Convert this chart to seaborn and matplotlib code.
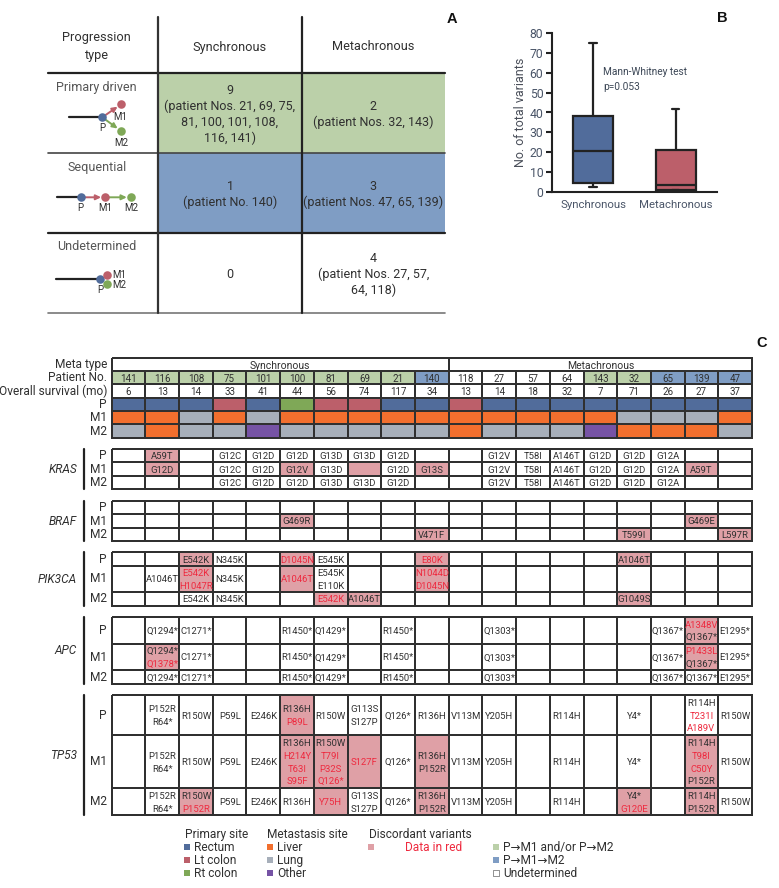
import matplotlib
matplotlib.use("Agg")
import matplotlib.pyplot as plt
import numpy as np
import pandas as pd
import seaborn as sns
from matplotlib.colors import ListedColormap

W, H = 779, 888

# panel A
progression_types = ["Primary driven", "Sequential", "Undetermined"]
timing = ["Synchronous", "Metachronous"]
sync_counts = ["9\n(patient Nos. 21, 69, 75,\n81, 100, 101, 108,\n116, 141)", "1\n(patient No. 140)", "0"]
meta_counts = ["2\n(patient Nos. 32, 143)", "3\n(patient Nos. 47, 65, 139)", "4\n(patient Nos. 27, 57,\n64, 118)"]
progression_cells = ["green", "blue", "white"]

# panel B (whisker low, q1, median, q3, whisker high)
sync_variants = [2.5, 4.2, 20.4, 38.2, 75]
meta_variants = [1, 1, 3.6, 21, 41.7]

# panel C
patients = ["141", "116", "108", "75", "101", "100", "81", "69", "21", "140",
            "118", "27", "57", "64", "143", "32", "65", "139", "47"]
survival = ["6", "13", "14", "33", "41", "44", "56", "74", "117", "34",
            "13", "14", "18", "32", "7", "71", "26", "27", "37"]
patient_type = ["green"] * 9 + ["blue"] + ["white"] * 4 + ["green"] * 2 + ["blue"] * 3
site_p = ["rectum", "rectum", "rectum", "lt", "rectum", "rt", "lt", "lt", "rectum", "rectum",
          "lt", "rectum", "rectum", "rectum", "rectum", "rectum", "rectum", "rectum", "rectum"]
site_m1 = ["liver", "liver", "lung", "liver", "lung", "liver", "liver", "liver", "liver", "liver",
           "liver", "liver", "liver", "liver", "liver", "lung", "lung", "lung", "liver"]
site_m2 = ["lung", "liver", "lung", "lung", "other", "lung", "lung", "lung", "lung", "lung",
           "liver", "lung", "lung", "lung", "other", "liver", "liver", "liver", "lung"]

_ = ""
# "!" in front of a variant means it is printed in red (discordant)
kras_p = [_, "A59T", _, "G12C", "G12D", "G12D", "G13D", "G13D", "G12D", _, _, "G12V", "T58I", "A146T", "G12D", "G12D", "G12A", _, _]
kras_m1 = [_, "G12D", _, "G12C", "G12D", "G12V", "G13D", _, "G12D", "G13S", _, "G12V", "T58I", "A146T", "G12D", "G12D", "G12A", "A59T", _]
kras_m2 = [_, _, _, "G12C", "G12D", "G12D", "G13D", "G13D", "G12D", _, _, "G12V", "T58I", "A146T", "G12D", "G12D", "G12A", _, _]
kras_pink = [[1], [1, 5, 7, 9, 17], []]

braf_p = [_] * 19
braf_m1 = [_, _, _, _, _, "G469R", _, _, _, _, _, _, _, _, _, _, _, "G469E", _]
braf_m2 = [_, _, _, _, _, _, _, _, _, "V471F", _, _, _, _, _, "T599I", _, _, "L597R"]
braf_pink = [[], [5, 17], [9, 15, 18]]

pik3ca_p = [_, _, "E542K", "N345K", _, "!D1045N", "E545K", _, _, "!E80K", _, _, _, _, _, "A1046T", _, _, _]
pik3ca_m1 = [_, "A1046T", "!E542K\n!H1047R", "N345K", _, "!A1046T", "E545K\nE110K", _, _, "!N1044D\n!D1045N", _, _, _, _, _, _, _, _, _]
pik3ca_m2 = [_, _, "E542K", "N345K", _, _, "!E542K", "A1046T", _, _, _, _, _, _, _, "G1049S", _, _, _]
pik3ca_pink = [[2, 5, 9, 15], [2, 5, 9], [6, 7, 15]]

apc_p = [_, "Q1294*", "C1271*", _, _, "R1450*", "Q1429*", _, "R1450*", _, _, "Q1303*", _, _, _, _, "Q1367*", "!A1348V\nQ1367*", "E1295*"]
apc_m1 = [_, "Q1294*\n!Q1378*", "C1271*", _, _, "R1450*", "Q1429*", _, "R1450*", _, _, "Q1303*", _, _, _, _, "Q1367*", "!P1433L\nQ1367*", "E1295*"]
apc_m2 = [_, "Q1294*", "C1271*", _, _, "R1450*", "Q1429*", _, "R1450*", _, _, "Q1303*", _, _, _, _, "Q1367*", "Q1367*", "E1295*"]
apc_pink = [[17], [1, 17], []]

tp53_p = [_, "P152R\nR64*", "R150W", "P59L", "E246K", "R136H\n!P89L", "R150W", "G113S\nS127P", "Q126*", "R136H",
          "V113M", "Y205H", _, "R114H", _, "Y4*", _, "R114H\n!T231I\n!A189V", "R150W"]
tp53_m1 = [_, "P152R\nR64*", "R150W", "P59L", "E246K", "R136H\n!H214Y\n!T63I\n!S95F", "R150W\n!T79I\n!P32S\n!Q126*", "!S127F", "Q126*", "R136H\nP152R",
           "V113M", "Y205H", _, "R114H", _, "Y4*", _, "R114H\n!T98I\n!C50Y\nP152R", "R150W"]
tp53_m2 = [_, "P152R\nR64*", "R150W\n!P152R", "P59L", "E246K", "R136H", "!Y75H", "G113S\nS127P", "Q126*", "R136H\nP152R",
           "V113M", "Y205H", _, "R114H", _, "Y4*\n!G120E", _, "R114H\nP152R", "R150W"]
tp53_pink = [[5], [5, 6, 7, 9, 17], [2, 6, 9, 15, 17]]

genes = ["KRAS", "BRAF", "PIK3CA", "APC", "TP53"]
gene_rows = [[kras_p, kras_m1, kras_m2], [braf_p, braf_m1, braf_m2], [pik3ca_p, pik3ca_m1, pik3ca_m2],
             [apc_p, apc_m1, apc_m2], [tp53_p, tp53_m1, tp53_m2]]
gene_pink = [kras_pink, braf_pink, pik3ca_pink, apc_pink, tp53_pink]
gene_edges = [[449, 462.3, 475.7, 489.3], [501, 514.3, 527.7, 541], [552.3, 565.7, 592, 605.7],
              [617, 643.7, 670.3, 683.7], [695, 735, 788.3, 815]]

colors = {"white": "#ffffff", "pink": "#dfa0a6", "green": "#bbd0a9", "blue": "#7f9dc4",
          "rectum": "#516c9b", "lt": "#bc5f6a", "rt": "#7fa857",
          "liver": "#f26f2e", "lung": "#a7afba", "other": "#7653a5"}
names = list(colors)
cell_cmap = ListedColormap([colors[n] for n in names])

GRID = "#303030"
TEXT = "#303030"
RED = "#ee2a3f"
COL_L, COL_R = 111.7, 752

sns.set_theme(style="ticks")
plt.rcParams["font.family"] = ["Roboto", "DejaVu Sans"]
plt.rcParams["text.color"] = TEXT

fig = plt.figure(figsize=(W / 100, H / 100), dpi=100)


def px_axes(x0, y0, x1, y1):
    return fig.add_axes([x0 / W, 1 - y1 / H, (x1 - x0) / W, (y1 - y0) / H])


def cell_row(cells, x0, y0, x1, y1, lw=1.35):
    # one table row as a one-line heatmap
    ax = px_axes(x0, y0, x1, y1)
    codes = pd.DataFrame([[names.index(c) for c in cells]])
    sns.heatmap(codes, ax=ax, cmap=cell_cmap, vmin=0, vmax=len(names) - 1, cbar=False,
                linewidths=lw, linecolor=GRID, xticklabels=False, yticklabels=False)
    ax.collections[0].set_clip_on(False)
    return ax


def cell_text(ax, col, label, size=6.8):
    lines = label.split("\n")
    for i, line in enumerate(lines):
        dy = ((len(lines) - 1) / 2 - i) * 12.7 * 0.72
        red = line.startswith("!")
        ax.annotate(line.lstrip("!"), xy=(col + 0.5, 0.5), xytext=(0, dy), textcoords="offset points",
                    ha="center", va="center_baseline", fontsize=size, color=RED if red else TEXT,
                    annotation_clip=False, zorder=10)


# panel A fills
for x0, x1, labels in [(158.3, 301.7, sync_counts), (301.7, 445, meta_counts)]:
    ax = px_axes(x0, 73, x1, 312.7)
    codes = pd.DataFrame([[names.index(c)] for c in progression_cells])
    sns.heatmap(codes, ax=ax, cmap=cell_cmap, vmin=0, vmax=len(names) - 1, cbar=False,
                xticklabels=False, yticklabels=False)
    for r, label in enumerate(labels):
        lines = label.split("\n")
        for i, line in enumerate(lines):
            ax.annotate(line, xy=(0.5, r + 0.5), xytext=(0, ((len(lines) - 1) / 2 - i) * 16 * 0.72),
                        textcoords="offset points", ha="center", va="center_baseline", fontsize=9)

# panel B
ax_b = px_axes(551.7, 33.3, 717, 191.7)
box_df = pd.DataFrame({"timing": [timing[0]] * 5 + [timing[1]] * 5, "variants": sync_variants + meta_variants})
sns.boxplot(data=box_df, x="timing", y="variants", hue="timing", palette=[colors["rectum"], colors["lt"]],
            width=0.48, linewidth=1.6, linecolor="#222222", capwidths=0.09, whis=3, saturation=1,
            legend=False, ax=ax_b)
ax_b.set_ylim(0, 80)
ax_b.set_xlim(-0.5, 1.5)
ax_b.set_xlabel("")
ax_b.set_ylabel("No. of total variants", fontsize=9, labelpad=2, color="#4a4f5a")
ax_b.set_yticks(range(0, 81, 10))
ax_b.tick_params(axis="y", length=4, width=1.5, labelsize=8.8, labelcolor="#4a5568", pad=2, color="#222222")
ax_b.tick_params(axis="x", length=0, labelsize=8.2, labelcolor="#4a5568", pad=6)
sns.despine(ax=ax_b)
for s in ["left", "bottom"]:
    ax_b.spines[s].set_linewidth(1.5)
    ax_b.spines[s].set_color("#222222")
for line in ax_b.lines:
    line.set_clip_on(False)
for patch in ax_b.patches:
    patch.set_clip_on(False)
ax_b.patch.set_alpha(0)
ax_b.text(0.124, 56.7, "Mann-Whitney test\np=0.053", fontsize=7.3, linespacing=1.55, va="center", color="#3c4756")

# panel C header rows
dx = (COL_R - COL_L) / 19
ax = cell_row(["white"], COL_L, 358.3, COL_L + 10 * dx, 371)
cell_text(ax, 0, timing[0], size=7.5)
ax = cell_row(["white"], COL_L + 10 * dx, 358.3, COL_R, 371)
cell_text(ax, 0, timing[1], size=7.5)
ax = cell_row(patient_type, COL_L, 371, COL_R, 384.3)
for c, label in enumerate(patients):
    cell_text(ax, c, label, size=7)
ax = cell_row(["white"] * 19, COL_L, 384.3, COL_R, 397.7)
for c, label in enumerate(survival):
    cell_text(ax, c, label, size=7)
cell_row(site_p, COL_L, 397.7, COL_R, 411)
cell_row(site_m1, COL_L, 411, COL_R, 424.3)
cell_row(site_m2, COL_L, 424.3, COL_R, 437.7)

# gene tables
for rows, pink, edges in zip(gene_rows, gene_pink, gene_edges):
    for r, row in enumerate(rows):
        cells = ["pink" if c in pink[r] else "white" for c in range(19)]
        ax = cell_row(cells, COL_L, edges[r], COL_R, edges[r + 1])
        for c, label in enumerate(row):
            if label:
                cell_text(ax, c, label)

# overlay for labels, rules and legends, in pixels
ov = fig.add_axes([0, 0, 1, 1], zorder=20)
ov.set_xlim(0, W)
ov.set_ylim(H, 0)
ov.axis("off")
ov.patch.set_alpha(0)

# panel A rules and text
ov.plot([48, 445], [73, 73], color="#222222", lw=1.6)
ov.plot([48, 445], [153, 153], color="#444444", lw=1.2)
ov.plot([48, 445], [232.7, 232.7], color="#222222", lw=1.6)
ov.plot([48, 445], [312.7, 312.7], color="#777777", lw=1.2)
ov.plot([158.3, 158.3], [17, 312.7], color="#333333", lw=1.6)
ov.plot([301.7, 301.7], [17, 312.7], color="#222222", lw=1.6)
ov.text(96.7, 47, "Progression\ntype", ha="center", va="center", fontsize=9.2, linespacing=1.5)
ov.text(230, 47, timing[0], ha="center", va="center", fontsize=9.2)
ov.text(373, 47, timing[1], ha="center", va="center", fontsize=9.2)
for label, y in zip(progression_types, [88, 167, 246]):
    ov.text(96.7, y, label, ha="center", va="center", fontsize=9, color="#555555")


def node(x, y, c, label, lx, ly):
    ov.scatter([x], [y], s=38, color=colors[c], zorder=5, linewidths=0)
    ov.text(lx, ly, label, ha="center", va="center", fontsize=7)


def arrow(x0, y0, x1, y1, c):
    ov.annotate("", xy=(x1, y1), xytext=(x0, y0),
                arrowprops=dict(arrowstyle="-|>,head_width=0.12,head_length=0.25", color=colors[c], lw=1.4,
                                shrinkA=0, shrinkB=3))


ov.plot([69.3, 102.3], [117.3, 117.3], color="#222222", lw=1.6)
arrow(102.3, 117.3, 121, 104.3, "lt")
arrow(102.3, 117.3, 121, 131, "rt")
node(102.3, 117.3, "rectum", "P", 102, 127.7)
node(121, 104.3, "lt", "M1", 120.5, 116.7)
node(121, 131, "rt", "M2", 121, 143)

ov.plot([57.3, 80.7], [197.3, 197.3], color="#222222", lw=1.6)
arrow(80.7, 197.3, 105.3, 197.3, "lt")
arrow(105.3, 197.3, 131, 197.3, "rt")
node(80.7, 197.3, "rectum", "P", 80.7, 207.7)
node(105.3, 197.3, "lt", "M1", 105.3, 207.7)
node(131, 197.3, "rt", "M2", 131, 207.7)

ov.plot([56, 100], [279.3, 279.3], color="#222222", lw=1.6)
node(100, 279.3, "rectum", "P", 100, 290)
node(107, 275, "lt", "M1", 119.5, 274.5)
node(107, 284, "rt", "M2", 119.5, 284.5)

# panel letters
for label, x, y in [("A", 452, 19), ("B", 722, 18), ("C", 762, 343)]:
    ov.text(x, y, label, ha="center", va="center", fontsize=10.5, fontweight="bold",
            family="Liberation Sans", color="#111111")

# panel C row labels
for label, y in zip(["Meta type", "Patient No.", "Overall survival (mo)", "P", "M1", "M2"],
                    [364.6, 377.6, 391, 404.3, 417.6, 431]):
    ov.text(107, y, label, ha="right", va="center", fontsize=8.6)
for gene, edges in zip(genes, gene_edges):
    for label, y0, y1 in zip(["P", "M1", "M2"], edges[:-1], edges[1:]):
        ov.text(107, (y0 + y1) / 2, label, ha="right", va="center", fontsize=8.6)
    ov.plot([84, 84], [edges[0], edges[-1]], color="#222222", lw=1.6)
    ov.text(77, (edges[0] + edges[-1]) / 2, gene, ha="right", va="center", fontsize=8.6, style="italic")

# legend
for label, x, y in [("Primary site", 185, 834), ("Metastasis site", 267, 834), ("Discordant variants", 369, 834)]:
    ov.text(x, y, label, va="center", fontsize=8.6)
legend_rows = [(187, "rectum", "Rectum", 847), (187, "lt", "Lt colon", 860), (187, "rt", "Rt colon", 873),
               (270, "liver", "Liver", 847), (270, "lung", "Lung", 860), (270, "other", "Other", 873),
               (496, "green", "P\u2192M1 and/or P\u2192M2", 847), (496, "blue", "P\u2192M1\u2192M2", 860),
               (496, "white", "Undetermined", 873)]
for x, c, label, y in legend_rows:
    ov.scatter([x], [y], s=20, marker="s", color=colors[c], linewidths=0.5 if c == "white" else 0,
               edgecolors="#666666")
    ov.text(x + 7, y, label, va="center", fontsize=8.6)
ov.scatter([371], [847], s=20, marker="s", color=colors["pink"], linewidths=0)
ov.text(405, 847, "Data in red", va="center", fontsize=8.6, color=RED)

fig.savefig("out.png", dpi=100)
